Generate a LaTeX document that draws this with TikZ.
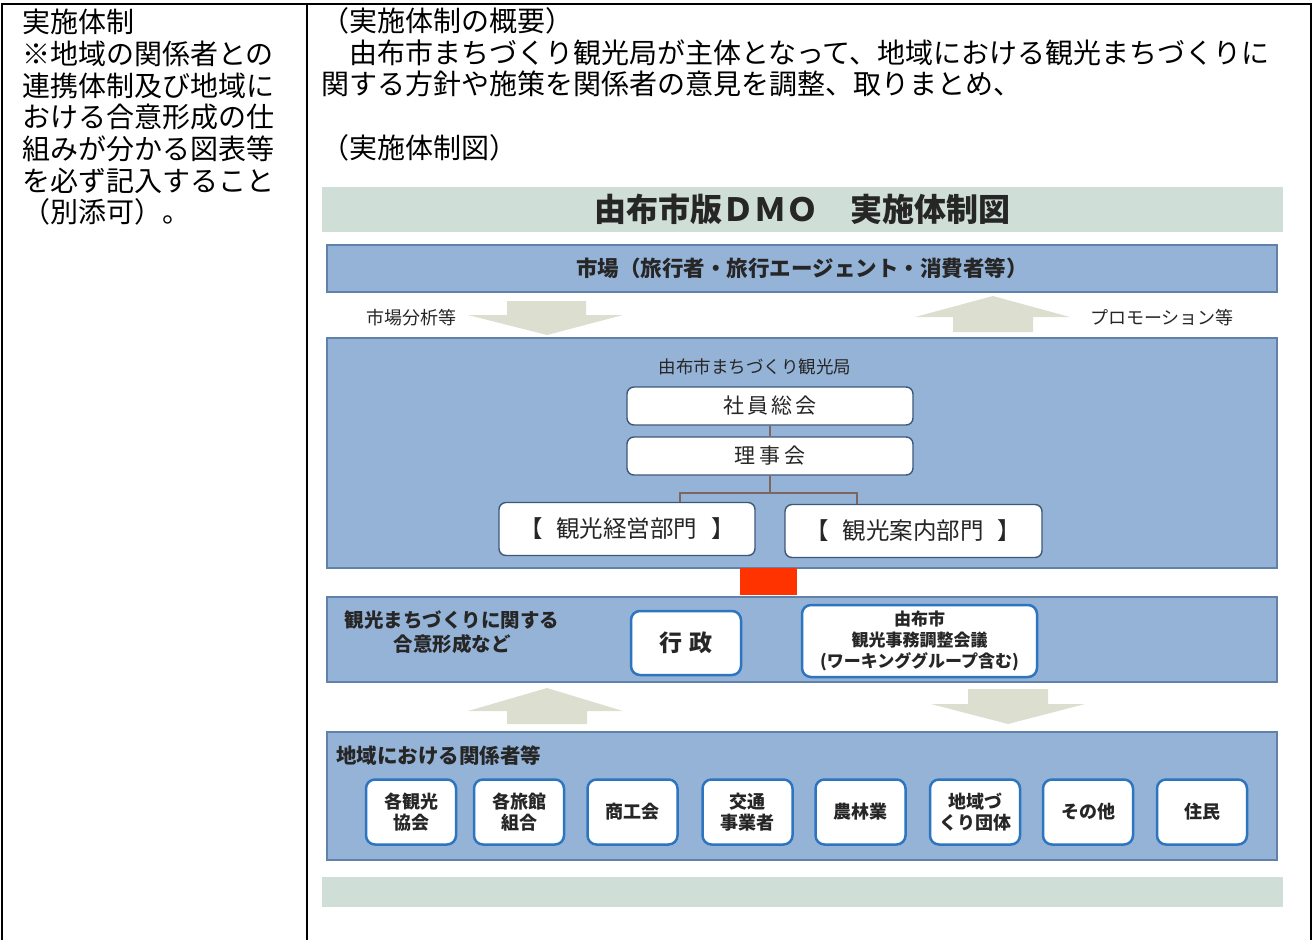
\documentclass[tikz,border=0pt]{standalone}
\usepackage{fontspec}
\newfontfamily\jp{Noto Sans CJK JP}
\usetikzlibrary{calc}
\definecolor{sage}{HTML}{CFDED6}
\definecolor{bandblue}{HTML}{95B3D7}
\definecolor{bandedge}{HTML}{6082AA}
\definecolor{arrowc}{HTML}{DCDECF}
\definecolor{oedge}{HTML}{3C5878}
\definecolor{bedge}{HTML}{2E75C0}
\definecolor{redsq}{HTML}{FF3300}
\definecolor{connc}{HTML}{7B6660}
\definecolor{dtext}{HTML}{262626}
\begin{document}
\begin{tikzpicture}[x=1pt,y=-1pt,
  body/.style={font=\jp\fontsize{28}{32}\selectfont, anchor=base west, inner sep=0, text=black},
  sageband/.style={fill=sage, inner sep=0},
  band/.style={fill=bandblue, draw=bandedge, line width=2pt, inner sep=0},
  obox/.style={fill=white, draw=oedge, line width=1.4pt, rounded corners=7pt, inner sep=0, text=dtext},
  bbox/.style={fill=white, draw=bedge, line width=2.5pt, rounded corners=9pt, inner sep=0, text=dtext},
  small/.style={font=\jp\fontsize{18}{21}\selectfont, text=dtext, inner sep=0},
  blockarrow/.style={fill=arrowc},
  conn/.style={draw=connc, line width=2pt},
  tline/.style={draw=black, line width=2pt}]
\useasboundingbox (0,0) rectangle (1314,940);

% table lines
\draw[tline] (2,940) -- (2,4) -- (1311,4) -- (1311,940);
\draw[tline] (307,4) -- (307,940);

% left column
\node[body] (l1) at (22,32.6) {実施体制};
\node[body] (l2) at (22,64.3) {※地域の関係者との};
\node[body] (l3) at (22,96) {連携体制及び地域に};
\node[body] (l4) at (22,127.6) {おける合意形成の仕};
\node[body] (l5) at (22,159.3) {組みが分かる図表等};
\node[body] (l6) at (22,191) {を必ず記入すること};
\node[body] (l7) at (22,222.6) {（別添可）。};

% right column
\node[body] (r1) at (321,31.6) {（実施体制の概要）};
\node[body] (r2) at (321,63.2) {　由布市まちづくり観光局が主体となって、地域における観光まちづくりに};
\node[body] (r3) at (321,94.8) {関する方針や施策を関係者の意見を調整、取りまとめ、};
\node[body] (r4) at (321,158.6) {（実施体制図）};

% diagram
\node[sageband, minimum width=961, minimum height=45, font=\jp\bfseries\fontsize{32}{34}\selectfont, text=dtext] (title) at (802.5,209.5) {由布市版ＤＭＯ　実施体制図};

\node[band, minimum width=950, minimum height=47, font=\jp\bfseries\fontsize{21.5}{24}\selectfont, text=dtext] (market) at (802,268.5) {市場（旅行者・旅行エージェント・消費者等）};

\node[small] (bunseki) at (411,318) {市場分析等};
\node[small] (promo) at (1162,318) {プロモーション等};

\fill[blockarrow] (507,301) -- (586,301) -- (586,315) -- (623,315) -- (547,335) -- (468,315) -- (507,315) -- cycle;
\fill[blockarrow] (993,296) -- (1070,317) -- (1033,317) -- (1033,332) -- (953,332) -- (953,317) -- (915,317) -- cycle;

\node[band, minimum width=950, minimum height=230] (dmo) at (802,453) {};
\node[small, font=\jp\fontsize{17.5}{20}\selectfont] (dmolabel) at (755,367) {由布市まちづくり観光局};
\node[obox, minimum width=286, minimum height=38, font=\jp\fontsize{21}{24}\selectfont] (soukai) at (770,406) {社\hspace{3pt}員\hspace{3pt}総\hspace{3pt}会};
\node[obox, minimum width=286, minimum height=38, font=\jp\fontsize{21}{24}\selectfont] (rijikai) at (770,456) {理\hspace{4.5pt}事\hspace{4.5pt}会};
\node[obox, minimum width=256, minimum height=53, font=\jp\fontsize{23.5}{26}\selectfont] (keiei) at (627,529) {【\hspace{14pt}観光経営部門\hspace{14pt}】};
\node[obox, minimum width=257, minimum height=53, font=\jp\fontsize{23.5}{26}\selectfont] (annai) at (913.5,531) {【\hspace{14pt}観光案内部門\hspace{14pt}】};

\draw[conn] (soukai.south) -- (rijikai.north);
\draw[conn] (rijikai.south) -- ++(0,17) coordinate (branch);
\draw[conn] ($(keiei.north)+(53,0)$) |- (branch) -| ($(annai.north)+(-56.5,0)$);

\node[fill=redsq, minimum width=57, minimum height=27, inner sep=0] (red) at (768.5,581.5) {};

\node[band, minimum width=950, minimum height=85] (gouii) at (802,639.5) {};
\node[small, font=\jp\bfseries\fontsize{19.5}{22}\selectfont] (g1) at (452,620) {観光まちづくりに関する};
\node[small, font=\jp\bfseries\fontsize{19.5}{22}\selectfont] (g2) at (452,644) {合意形成など};
\node[bbox, minimum width=110, minimum height=64, font=\jp\bfseries\fontsize{23}{26}\selectfont] (gyosei) at (686,643) {行\hspace{7pt}政};
\node[bbox, minimum width=235, minimum height=72, align=center, font=\jp\bfseries\fontsize{17}{21}\selectfont] (kaigi) at (919.5,641) {由布市\\観光事務調整会議\\(ワーキンググループ含む)};

\fill[blockarrow] (547,688) -- (623,711) -- (587,711) -- (587,724) -- (507,724) -- (507,711) -- (468,711) -- cycle;
\fill[blockarrow] (968,689) -- (1048,689) -- (1048,704) -- (1085,704) -- (1008,724) -- (931,704) -- (968,704) -- cycle;

\node[band, minimum width=950, minimum height=128] (chiiki) at (802,796) {};
\node[small, anchor=west, font=\jp\bfseries\fontsize{20.5}{23}\selectfont] (chiikilabel) at (336,756) {地域における関係者等};

\tikzset{sbox/.style={bbox, minimum width=90, minimum height=65, align=center, font=\jp\bfseries\fontsize{18}{21}\selectfont}}
\node[sbox] (b1) at (411,812) {各観光\\協会};
\node[sbox] (b2) at (519,812) {各旅館\\組合};
\node[sbox] (b3) at (632.5,812) {商工会};
\node[sbox] (b4) at (747.5,812) {交通\\事業者};
\node[sbox] (b5) at (860.5,812) {農林業};
\node[sbox] (b6) at (975,812) {地域づ\\くり団体};
\node[sbox] (b7) at (1088,812) {その他};
\node[sbox] (b8) at (1202,812) {住民};

\node[sageband, minimum width=961, minimum height=30] (foot) at (802.5,892) {};
\end{tikzpicture}
\end{document}
